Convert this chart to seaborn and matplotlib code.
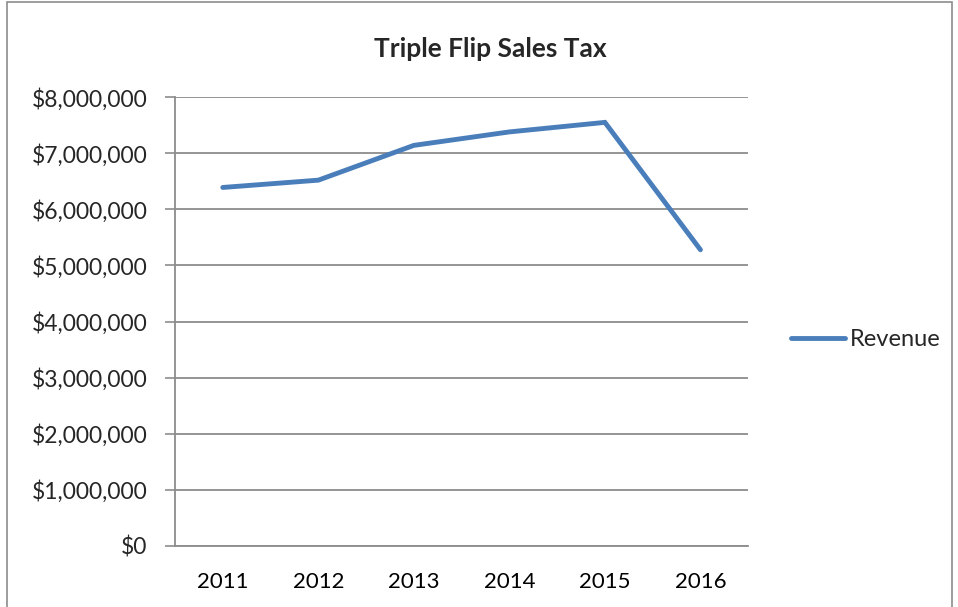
import pandas as pd
import seaborn as sns
import matplotlib.pyplot as plt
from matplotlib.patches import Rectangle
from matplotlib.ticker import FuncFormatter

# values
years = ['2011', '2012', '2013', '2014', '2015', '2016']
revenue = [6390000, 6520000, 7140000, 7380000, 7550000, 5280000]

df = pd.DataFrame({'Year': years, 'Revenue': revenue})

sns.set_style("white")
plt.rcParams['font.family'] = ['Lato', 'DejaVu Sans']

fig = plt.figure(figsize=(9.58, 6.07), dpi=100)
ax = fig.add_axes([0.1827, 0.1005, 0.5983, 0.7395])

grid_col = '#8c8c8c'
sns.lineplot(data=df, x='Year', y='Revenue', ax=ax, color='#4a7ebb',
             linewidth=3.5, solid_capstyle='round', solid_joinstyle='miter',
             label='Revenue', sort=False)

ax.set_ylim(0, 8000000)
ax.set_yticks(range(0, 8000001, 1000000))
ax.yaxis.set_major_formatter(FuncFormatter(lambda v, p: f'${v:,.0f}'))
ax.set_xlim(-0.5, 5.5)
ax.set_xticks(range(len(years)))
ax.set_xticklabels(years)
ax.set_xticks([i - 0.5 for i in range(len(years) + 1)], minor=True)
ax.tick_params(axis='x', which='major', length=0, pad=19, labelsize=16, colors='black')
ax.tick_params(axis='x', which='minor', length=7, width=1.2, color=grid_col, direction='out')
ax.tick_params(axis='y', which='major', length=7, width=1.2, color=grid_col,
               direction='out', labelsize=16.5, pad=13, left=True)
ax.grid(axis='y', color=grid_col, linewidth=1.3)
ax.set_axisbelow(True)
ax.set_xlabel('')
ax.set_ylabel('')
for side in ['top', 'right']:
    ax.spines[side].set_visible(False)
for side in ['left', 'bottom']:
    ax.spines[side].set_color(grid_col)
    ax.spines[side].set_linewidth(1.3)

ax.set_title('Triple Flip Sales Tax', fontsize=19, fontweight='bold', pad=29, x=0.55)

ax.legend(loc='center left', bbox_to_anchor=(0.803, 0.44), bbox_transform=fig.transFigure,
          frameon=False, fontsize=17, handlelength=2.3, handletextpad=0.2)

# outer chart border
fig.patches.append(Rectangle((0.007, -0.01), 0.987, 1.006, transform=fig.transFigure,
                             fill=False, edgecolor='#8c8c8c', linewidth=1.2))

fig.savefig('out.png', dpi=100)
